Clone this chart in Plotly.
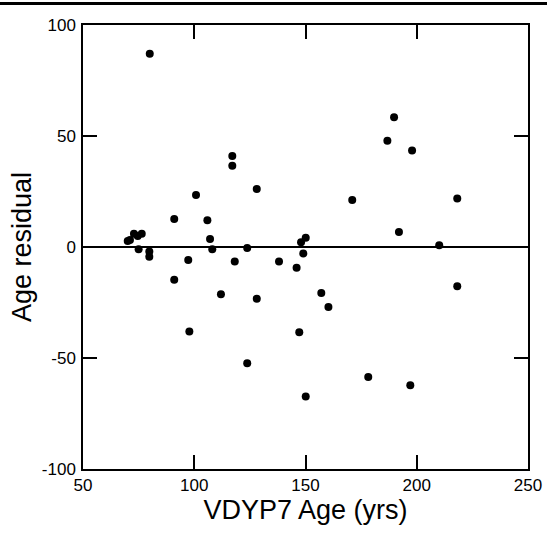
import plotly.graph_objects as go

vdyp7_age = [80, 70.1, 71.1, 72.9, 74.6, 76.4, 75.0, 79.8, 79.8, 91.0, 100.8, 105.9, 107.1, 108.1,
             117.1, 117.1, 123.8, 128.1, 97.3, 118.2, 91.0, 112.0, 128.1, 97.8, 123.8,
             138.1, 146.0, 148.0, 150.1, 149.0, 171.0, 186.8, 189.8, 197.9, 192.0, 210.1, 218.2,
             157.1, 160.3, 147.2, 150.1, 178.2, 197.1, 218.2]
age_residual = [87.1, 2.7, 3.2, 6.0, 5.0, 6.0, -1.0, -2.0, -4.4, 12.6, 23.4, 12.0, 3.6, -1.0,
                41.0, 36.6, -0.5, 26.1, -5.9, -6.5, -14.7, -21.3, -23.3, -38.1, -52.4,
                -6.5, -9.3, 2.1, 4.2, -2.9, 21.2, 47.9, 58.4, 43.5, 6.8, 0.8, 21.8,
                -20.7, -27.0, -38.4, -67.3, -58.6, -62.3, -17.7]

x_ticks = [50, 100, 150, 200, 250]
x_ticktext = ["50", "100", "150", "200", "250"]
y_ticks = [-100, -50, 0, 50, 100]
y_ticktext = ["-100", "-50", "0", "50", "100"]

fig = go.Figure()
fig.add_trace(go.Scatter(
    x=vdyp7_age, y=age_residual, mode="markers",
    marker=dict(color="black", size=8, line=dict(width=0)),
    showlegend=False,
))

axis_common = dict(
    showline=True, linecolor="black", linewidth=1.5, mirror="ticks",
    ticks="inside", ticklen=14, tickwidth=1.5, tickcolor="black",
    showgrid=False, automargin=False,
    tickfont=dict(family="Liberation Sans, Arial, sans-serif", size=17, color="black"),
)

fig.update_layout(
    width=547, height=533,
    margin=dict(l=83, r=19, t=25, b=64),
    paper_bgcolor="white", plot_bgcolor="white",
    font=dict(family="Liberation Sans, Arial, sans-serif", color="black"),
    xaxis=dict(range=[50, 250], tickvals=x_ticks, ticktext=x_ticktext, zeroline=False,
               title=dict(text="VDYP7 Age (yrs)", font=dict(size=27), standoff=5),
               ticklabelstandoff=0, **axis_common),
    yaxis=dict(range=[-100, 100], tickvals=y_ticks, ticktext=y_ticktext, zeroline=True,
               zerolinecolor="black", zerolinewidth=1.5,
               title=dict(text="Age residual", font=dict(size=27), standoff=2),
               ticklabelstandoff=2, **axis_common),
    shapes=[dict(type="line", xref="paper", yref="paper", x0=-0.2, x1=1.1,
                 y0=1.0 + 21.5 / 444, y1=1.0 + 21.5 / 444,
                 line=dict(color="black", width=3))],
)

fig.write_html("out.html")
